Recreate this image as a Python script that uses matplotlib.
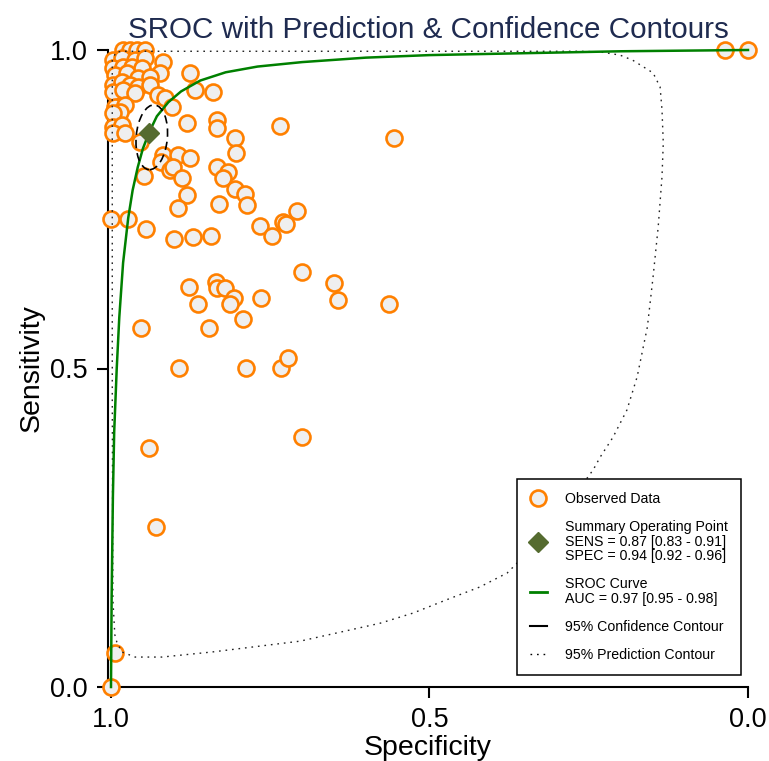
import matplotlib
matplotlib.use("Agg")
import matplotlib.pyplot as plt
from matplotlib.lines import Line2D
from matplotlib.patches import Ellipse

plt.rcParams['font.family'] = ['Liberation Sans', 'DejaVu Sans']

# observed studies (specificity, sensitivity)
spec_obs = [0.981, 0.970, 0.959, 0.947, 0.997, 0.983, 0.962, 0.947, 0.918, 0.997,
            0.981, 0.967, 0.951, 0.876, 0.923, 0.994, 0.975, 0.958, 0.939, 0.997,
            0.983, 0.970, 0.958, 0.939, 0.868, 0.997, 0.981, 0.962, 0.926, 0.915,
            0.904, 0.994, 0.978, 0.986, 0.997, 0.881, 0.997, 0.983, 0.997, 0.978,
            0.954, 0.840, 0.036, 0.000,
            1.000, 0.973, 0.945, 0.948, 0.953, 0.940, 0.929, 0.994, 1.000, 0.918,
            0.895, 0.876, 0.922, 0.907, 0.903, 0.889, 0.881, 0.895, 0.901, 0.871,
            0.843, 0.834, 0.834, 0.805, 0.804, 0.735, 0.556, 0.834, 0.816, 0.824,
            0.805, 0.790, 0.786, 0.830, 0.766, 0.747, 0.730, 0.725, 0.708, 0.700,
            0.650, 0.644, 0.564, 0.878, 0.835, 0.834, 0.821, 0.807, 0.813, 0.863,
            0.765, 0.793, 0.846, 0.893, 0.788, 0.733, 0.722, 0.700]
sens_obs = [1.000, 1.000, 1.000, 1.000, 0.984, 0.987, 0.984, 0.987, 0.981, 0.972,
            0.973, 0.973, 0.972, 0.964, 0.964, 0.961, 0.964, 0.956, 0.958, 0.945,
            0.950, 0.945, 0.942, 0.945, 0.937, 0.934, 0.937, 0.932, 0.929, 0.925,
            0.911, 0.911, 0.914, 0.903, 0.901, 0.885, 0.879, 0.882, 0.870, 0.870,
            0.856, 0.934, 1.000, 1.000,
            0.735, 0.735, 0.719, 0.802, 0.564, 0.375, 0.251, 0.053, 0.000, 0.835,
            0.835, 0.830, 0.824, 0.812, 0.816, 0.799, 0.772, 0.752, 0.703, 0.706,
            0.708, 0.890, 0.878, 0.862, 0.838, 0.881, 0.862, 0.816, 0.808, 0.799,
            0.782, 0.774, 0.757, 0.758, 0.724, 0.708, 0.730, 0.727, 0.747, 0.651,
            0.634, 0.608, 0.601, 0.628, 0.636, 0.626, 0.626, 0.611, 0.601, 0.601,
            0.611, 0.578, 0.564, 0.501, 0.501, 0.501, 0.516, 0.392]

# SROC curve
sroc_spec = [1.000, 0.999, 0.997, 0.995, 0.991, 0.987, 0.981, 0.973, 0.966, 0.958,
             0.950, 0.940, 0.928, 0.910, 0.890, 0.860, 0.820, 0.770, 0.700, 0.600,
             0.500, 0.350, 0.200, 0.000]
sroc_sens = [0.000, 0.140, 0.300, 0.400, 0.500, 0.580, 0.666, 0.736, 0.780, 0.816,
             0.845, 0.871, 0.896, 0.918, 0.935, 0.952, 0.965, 0.974, 0.981, 0.988,
             0.992, 0.995, 0.998, 1.000]

# 95% prediction contour
pred_spec = [0.978, 0.860, 0.703, 0.546, 0.389, 0.264, 0.232, 0.201, 0.181, 0.149,
             0.138, 0.135, 0.133, 0.135, 0.141, 0.149, 0.158, 0.174, 0.190, 0.212,
             0.232, 0.243, 0.295, 0.334, 0.378, 0.421, 0.473, 0.526, 0.578, 0.703,
             0.841, 0.920, 0.962, 0.983, 0.991, 0.994, 0.997, 0.998, 0.998, 0.998,
             0.992, 0.978]
pred_sens = [0.998, 0.998, 0.998, 0.998, 0.998, 0.998, 0.997, 0.992, 0.984, 0.964,
             0.942, 0.906, 0.854, 0.801, 0.722, 0.644, 0.565, 0.487, 0.435, 0.392,
             0.361, 0.341, 0.270, 0.223, 0.179, 0.157, 0.137, 0.116, 0.100, 0.072,
             0.055, 0.047, 0.047, 0.055, 0.071, 0.082, 0.137, 0.451, 0.765, 0.984,
             0.997, 0.998]

# summary point and 95% confidence region
summary_spec = 0.94
summary_sens = 0.87
sens_ci = (0.83, 0.91)
spec_ci = (0.92, 0.96)
auc = (0.97, 0.95, 0.98)
conf_center = (0.936, 0.863)
conf_width = 0.049
conf_height = 0.102
conf_angle = 5

ORANGE = '#ff8000'
OLIVE = '#556b2f'
GREEN = '#008000'

fig = plt.figure(figsize=(7.69, 7.61), dpi=100)
ax = fig.add_axes([108 / 769, 1 - 687 / 761, 640 / 769, 637 / 761])

ax.plot(spec_obs, sens_obs, 'o', ls='none', ms=11.5, mfc='#efefef', mec=ORANGE,
        mew=1.9, clip_on=False, zorder=3)
ax.plot(pred_spec, pred_sens, color='#222222', lw=1.0, ls=(0, (1.2, 3.5)),
        clip_on=False, zorder=4)
ax.plot(sroc_spec, sroc_sens, color=GREEN, lw=1.8, clip_on=False, zorder=4)
ax.add_patch(Ellipse(conf_center, conf_width, conf_height, angle=conf_angle,
                     fill=False, ec='black', lw=1.2, ls=(0, (5, 3)), zorder=4))
ax.plot([summary_spec], [summary_sens], 'D', ms=10.5, color=OLIVE, zorder=5)

ax.set_xlim(1.0047, 0.0)
ax.set_ylim(0, 1)
ax.set_xticks([1.0, 0.5, 0.0])
ax.set_xticklabels(['1.0', '0.5', '0.0'])
ax.set_yticks([0.0, 0.5, 1.0])
ax.set_yticklabels(['0.0', '0.5', '1.0'])
ax.tick_params(direction='out', length=8, width=1.5, pad=6.5, labelsize=19.5)
for s in ['top', 'right']:
    ax.spines[s].set_visible(False)
for s in ['left', 'bottom']:
    ax.spines[s].set_linewidth(1.5)

ax.set_xlabel('Specificity', fontsize=20.5, labelpad=1)
ax.set_ylabel('Sensitivity', fontsize=20.5, labelpad=4)
ax.set_title('SROC with Prediction & Confidence Contours', fontsize=21.3,
             color='#1f2b50', pad=9)

handles = [
    Line2D([], [], marker='o', ls='none', ms=11.5, mfc='#efefef', mec=ORANGE, mew=1.9),
    Line2D([], [], marker='D', ls='none', ms=10.5, color=OLIVE),
    Line2D([], [], color=GREEN, lw=2),
    Line2D([], [], color='black', lw=1.5),
    Line2D([], [], color='black', lw=1.0, ls=(0, (1.2, 3.5))),
]
labels = [
    'Observed Data',
    'Summary Operating Point\nSENS = %.2f [%.2f - %.2f]\nSPEC = %.2f [%.2f - %.2f]'
    % (summary_sens, sens_ci[0], sens_ci[1], summary_spec, spec_ci[0], spec_ci[1]),
    'SROC Curve\nAUC = %.2f [%.2f - %.2f]' % auc,
    '95% Confidence Contour',
    '95% Prediction Contour',
]
leg = ax.legend(handles, labels, loc='lower right', bbox_to_anchor=(0.989, 0.019),
                fontsize=10.2, frameon=True, fancybox=False, edgecolor='black',
                framealpha=1, borderpad=0.9, handlelength=1.2, handletextpad=1.3,
                labelspacing=1.0, borderaxespad=0)
leg.get_frame().set_linewidth(1.1)
for t in leg.get_texts():
    t.set_linespacing(1.05)

fig.savefig('out.png', dpi=100)
